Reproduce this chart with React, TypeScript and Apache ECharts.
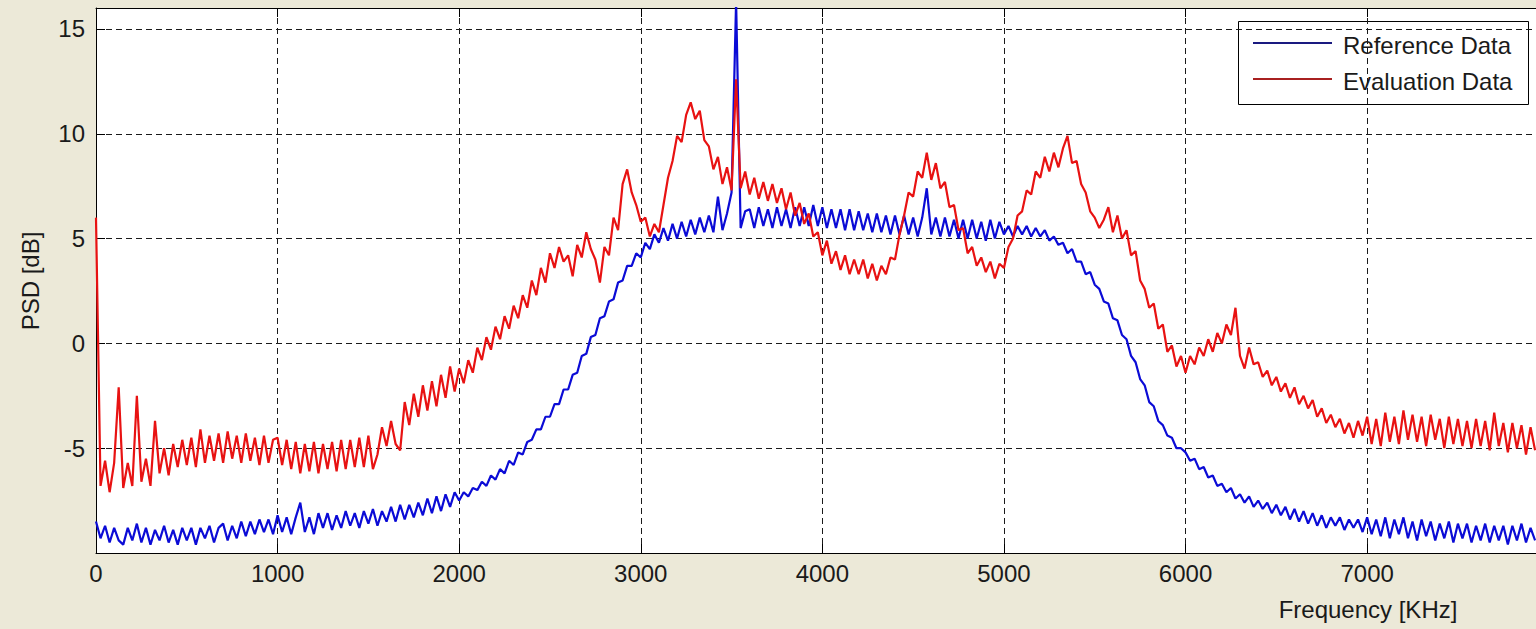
import React, { useEffect, useRef } from "react";
import * as echarts from "echarts";

// Sampling step of the PSD traces (KHz); each block below covers 1000 KHz
const STEP = 25;

// Reference Data (blue), dB, blocks starting at 0,1000,...,7000 KHz
const REF_0 = [-8.5,-9.3,-8.7,-9.5,-8.8,-9.4,-9.6,-8.8,-9.4,-8.6,-9.5,-8.8,-9.6,-8.9,-9.4,-8.7,-9.5,-8.9,-9.6,-8.8,-9.4,-8.8,-9.6,-8.8,-9.3,-8.7,-9.5,-8.8,-8.6,-9.4,-8.7,-9.3,-8.5,-9.2,-8.5,-9.1,-8.4,-9.0,-8.4,-9.1];
const REF_1 = [-8.2,-9.0,-8.3,-9.1,-8.3,-7.6,-9.0,-8.3,-9.1,-8.1,-8.8,-8.1,-8.9,-8.2,-8.8,-8.0,-8.7,-8.1,-8.8,-8.0,-8.6,-7.9,-8.7,-8.0,-8.5,-7.8,-8.5,-7.7,-8.4,-7.7,-8.3,-7.6,-8.2,-7.4,-8.1,-7.3,-8.0,-7.2,-7.8,-7.1];
const REF_2 = [-7.5,-7.1,-7.3,-6.9,-7.0,-6.6,-6.8,-6.3,-6.5,-6.0,-6.2,-5.6,-5.8,-5.2,-5.3,-4.7,-4.6,-4.1,-4.1,-3.5,-3.5,-2.9,-2.9,-2.2,-2.2,-1.5,-1.4,-0.6,-0.5,0.3,0.4,1.2,1.3,2.0,2.1,2.9,3.0,3.7,3.7,4.3];
const REF_3 = [4.1,4.8,4.5,5.2,4.8,5.5,4.9,5.7,5.0,5.8,5.1,5.9,5.2,6.0,5.3,6.1,5.3,7.0,5.4,6.2,7.2,16.3,5.5,6.3,6.4,5.5,6.5,5.6,6.4,5.5,6.5,5.6,6.4,5.5,6.5,5.6,6.5,5.6,6.6,5.6];
const REF_4 = [6.5,5.5,6.4,5.5,6.4,5.4,6.4,5.4,6.3,5.4,6.2,5.3,6.2,5.3,6.1,5.2,6.1,5.2,6.1,5.2,6.0,5.1,6.0,7.4,5.2,6.0,5.1,6.0,5.1,5.9,5.0,5.9,5.0,5.9,5.0,5.8,4.9,5.9,5.0,5.8];
const REF_5 = [5.2,5.6,5.1,5.6,5.2,5.6,5.1,5.5,5.1,5.4,4.9,5.1,4.7,4.8,4.3,4.5,3.9,3.9,3.3,3.4,2.8,2.6,2.0,1.9,1.2,1.1,0.4,0.2,-0.6,-0.9,-1.7,-2.0,-2.8,-3.0,-3.7,-3.9,-4.4,-4.5,-5.0,-5.0];
const REF_6 = [-5.2,-5.6,-5.5,-6.0,-5.9,-6.4,-6.3,-6.8,-6.7,-7.1,-6.9,-7.4,-7.2,-7.6,-7.3,-7.8,-7.5,-7.9,-7.6,-8.1,-7.7,-8.2,-7.8,-8.4,-7.9,-8.5,-8.0,-8.6,-8.1,-8.7,-8.2,-8.8,-8.3,-8.7,-8.3,-8.9,-8.4,-8.8,-8.4,-9.0];
const REF_7 = [-8.3,-9.1,-8.4,-9.2,-8.3,-9.3,-8.4,-9.1,-8.3,-9.3,-8.5,-9.4,-8.4,-9.2,-8.5,-9.4,-8.6,-9.3,-8.5,-9.5,-8.6,-9.3,-8.6,-9.5,-8.7,-9.4,-8.6,-9.5,-8.7,-9.4,-8.7,-9.6,-8.7,-9.4,-8.6,-9.5,-8.8,-9.4];

// Evaluation Data (red), dB
const EVAL_0 = [6.0,-6.8,-5.6,-7.1,-5.7,-2.1,-6.9,-5.7,-6.8,-2.5,-6.6,-5.5,-6.8,-3.7,-6.2,-5.0,-6.3,-4.8,-5.9,-4.6,-5.8,-4.5,-5.9,-4.1,-5.7,-4.4,-5.6,-4.3,-5.7,-4.2,-5.5,-4.4,-5.7,-4.3,-5.6,-4.5,-5.8,-4.4,-5.7,-4.6];
const EVAL_1 = [-4.5,-5.8,-4.6,-6.0,-4.7,-6.2,-4.8,-6.1,-4.7,-6.2,-4.8,-6.0,-4.7,-6.1,-4.6,-6.0,-4.6,-5.9,-4.5,-5.9,-4.4,-6.0,-5.3,-4.0,-4.9,-3.7,-4.8,-5.1,-2.8,-3.9,-2.4,-3.5,-2.0,-3.2,-1.8,-3.0,-1.5,-2.6,-1.1,-2.3];
const EVAL_2 = [-1.2,-1.9,-0.8,-1.4,-0.2,-0.8,0.3,-0.3,0.8,0.2,1.3,0.7,1.8,1.2,2.3,1.7,3.0,2.3,3.6,2.9,4.3,3.6,4.6,3.9,4.2,3.2,4.7,4.1,5.3,4.5,4.0,2.9,4.6,4.2,6.0,5.4,7.6,8.3,7.2,6.6];
const EVAL_3 = [5.8,6.0,5.1,5.7,5.3,6.6,7.9,8.7,9.9,9.6,10.9,11.5,10.7,11.1,9.7,9.4,8.3,8.9,7.6,8.4,7.3,12.6,7.4,8.2,7.1,7.9,6.9,7.7,6.8,7.6,6.7,7.4,6.4,7.2,6.1,6.7,5.7,6.2,5.1,5.3];
const EVAL_4 = [4.2,4.9,3.8,4.4,3.5,4.2,3.3,4.0,3.3,4.0,3.1,3.8,3.0,3.7,3.3,4.1,4.0,5.2,6.1,7.2,7.0,8.2,7.9,9.1,7.8,8.6,7.4,7.7,6.5,6.6,5.4,5.5,4.3,4.6,3.7,4.1,3.4,3.9,3.1,3.8];
const EVAL_5 = [3.6,4.6,5.0,6.1,6.3,7.3,7.1,8.2,7.9,8.9,8.2,9.1,8.4,9.3,9.9,8.6,8.7,7.6,7.2,6.3,6.0,5.5,5.9,6.5,5.3,6.1,5.0,5.4,4.2,4.4,3.0,2.6,1.7,1.9,0.7,0.9,-0.4,-0.1,-1.1,-0.6];
const EVAL_6 = [-1.4,-0.6,-1.0,-0.2,-0.6,0.2,-0.4,0.5,0.0,0.9,0.4,1.7,-0.6,-1.2,-0.2,-1.0,-0.9,-1.6,-1.3,-2.0,-1.6,-2.3,-1.9,-2.6,-2.1,-2.9,-2.5,-3.1,-2.7,-3.5,-3.1,-3.8,-3.4,-4.0,-3.6,-4.3,-3.8,-4.5,-3.7,-4.4];
const EVAL_7 = [-3.5,-4.8,-3.6,-4.9,-3.3,-4.7,-3.5,-4.8,-3.2,-4.6,-3.4,-4.7,-3.5,-4.9,-3.4,-4.6,-3.6,-5.0,-3.5,-4.8,-3.6,-4.9,-3.7,-5.0,-3.6,-4.9,-3.7,-5.1,-3.3,-4.9,-3.8,-5.2,-3.8,-5.0,-3.9,-5.3,-4.0,-5.1];

const REF_BLOCKS = [REF_0, REF_1, REF_2, REF_3, REF_4, REF_5, REF_6, REF_7];
const EVAL_BLOCKS = [EVAL_0, EVAL_1, EVAL_2, EVAL_3, EVAL_4, EVAL_5, EVAL_6, EVAL_7];
const BLOCK_START = [0, 1000, 2000, 3000, 4000, 5000, 6000, 7000];

const SERIES_NAMES = ["Reference Data", "Evaluation Data"];
const X_NAME = "Frequency [KHz]";
const Y_NAME = "PSD [dB]";

const BLUE = "#0b0bd6";
const RED = "#e81212";
const FONT = "'Liberation Sans', Arial, sans-serif";

function toPairs(blocks: number[][]): number[][] {
  const out: number[][] = [];
  blocks.forEach((b, k) => {
    b.forEach((v, j) => out.push([BLOCK_START[k] + j * STEP, v]));
  });
  return out;
}

export default function App() {
  const ref = useRef<HTMLDivElement>(null);
  useEffect(() => {
    if (!ref.current) return;
    const chart = echarts.init(ref.current, null, { renderer: "svg" });
    const gridLine = { show: true, lineStyle: { color: "#1a1a1a", width: 1, type: [6, 4] } };
    const option = {
      animation: false,
      backgroundColor: "#ece9d8",
      grid: { left: 96, top: 8, right: 0, bottom: 76, show: true, backgroundColor: "#ffffff", borderWidth: 0 },
      xAxis: [
        {
          type: "value", min: 0, max: 7930, interval: 1000,
          axisLine: { show: true, onZero: false, lineStyle: { color: "#000", width: 1 } },
          axisTick: { show: true, inside: true, length: 9, lineStyle: { color: "#000" } },
          axisLabel: { margin: 8, fontSize: 24, fontFamily: FONT, color: "#1a1a1a", showMaxLabel: false, formatter: (v: number) => String(v) },
          splitLine: gridLine,
        },
        {
          type: "value", min: 0, max: 7930, interval: 1000, position: "top",
          axisLine: { show: true, onZero: false, lineStyle: { color: "#000", width: 1 } },
          axisTick: { show: true, inside: true, length: 9, lineStyle: { color: "#000" } },
          axisLabel: { show: false },
          splitLine: { show: false },
        },
      ],
      yAxis: {
        type: "value", min: -10, max: 16, interval: 5,
        axisLine: { show: true, onZero: false, lineStyle: { color: "#000", width: 1 } },
        axisTick: { show: true, inside: true, length: 9, lineStyle: { color: "#000" } },
        axisLabel: { margin: 11, fontSize: 24, fontFamily: FONT, color: "#1a1a1a", showMinLabel: false, showMaxLabel: false },
        splitLine: gridLine,
      },
      series: [
        {
          name: SERIES_NAMES[0], type: "line", data: toPairs(REF_BLOCKS), showSymbol: false,
          lineStyle: { color: BLUE, width: 2.2 }, itemStyle: { color: BLUE }, z: 2, clip: true,
        },
        {
          name: SERIES_NAMES[1], type: "line", data: toPairs(EVAL_BLOCKS), showSymbol: false,
          lineStyle: { color: RED, width: 2.2 }, itemStyle: { color: RED }, z: 3, clip: true,
        },
      ],
      graphic: [
        {
          type: "text", x: 1368, y: 609, z: 10,
          style: { text: X_NAME, fontSize: 24, fontFamily: FONT, fill: "#1a1a1a", textAlign: "center", textVerticalAlign: "middle", align: "center", verticalAlign: "middle" },
        },
        {
          type: "text", x: 30, y: 281, rotation: Math.PI / 2, z: 10,
          style: { text: Y_NAME, fontSize: 24, fontFamily: FONT, fill: "#1a1a1a", textAlign: "center", textVerticalAlign: "middle", align: "center", verticalAlign: "middle" },
        },
        {
          type: "group", z: 20,
          children: [
            { type: "rect", shape: { x: 1238.5, y: 21.5, width: 290, height: 83 }, style: { fill: "#fff", stroke: "#000", lineWidth: 1 } },
            { type: "line", shape: { x1: 1253, y1: 43, x2: 1332, y2: 43 }, style: { stroke: "#1a1a80", lineWidth: 2 } },
            { type: "line", shape: { x1: 1253, y1: 79, x2: 1332, y2: 79 }, style: { stroke: "#a82020", lineWidth: 2 } },
            { type: "text", x: 1343, y: 45, style: { text: SERIES_NAMES[0], fontSize: 24, fontFamily: FONT, fill: "#1a1a1a", textAlign: "left", textVerticalAlign: "middle", align: "left", verticalAlign: "middle" } },
            { type: "text", x: 1343, y: 81, style: { text: SERIES_NAMES[1], fontSize: 24, fontFamily: FONT, fill: "#1a1a1a", textAlign: "left", textVerticalAlign: "middle", align: "left", verticalAlign: "middle" } },
          ],
        },
      ],
    };
    chart.setOption(option as any);
    return () => chart.dispose();
  }, []);
  return <div ref={ref} style={{ position: "fixed", left: 0, top: 0, width: 1536, height: 629 }} />;
}
